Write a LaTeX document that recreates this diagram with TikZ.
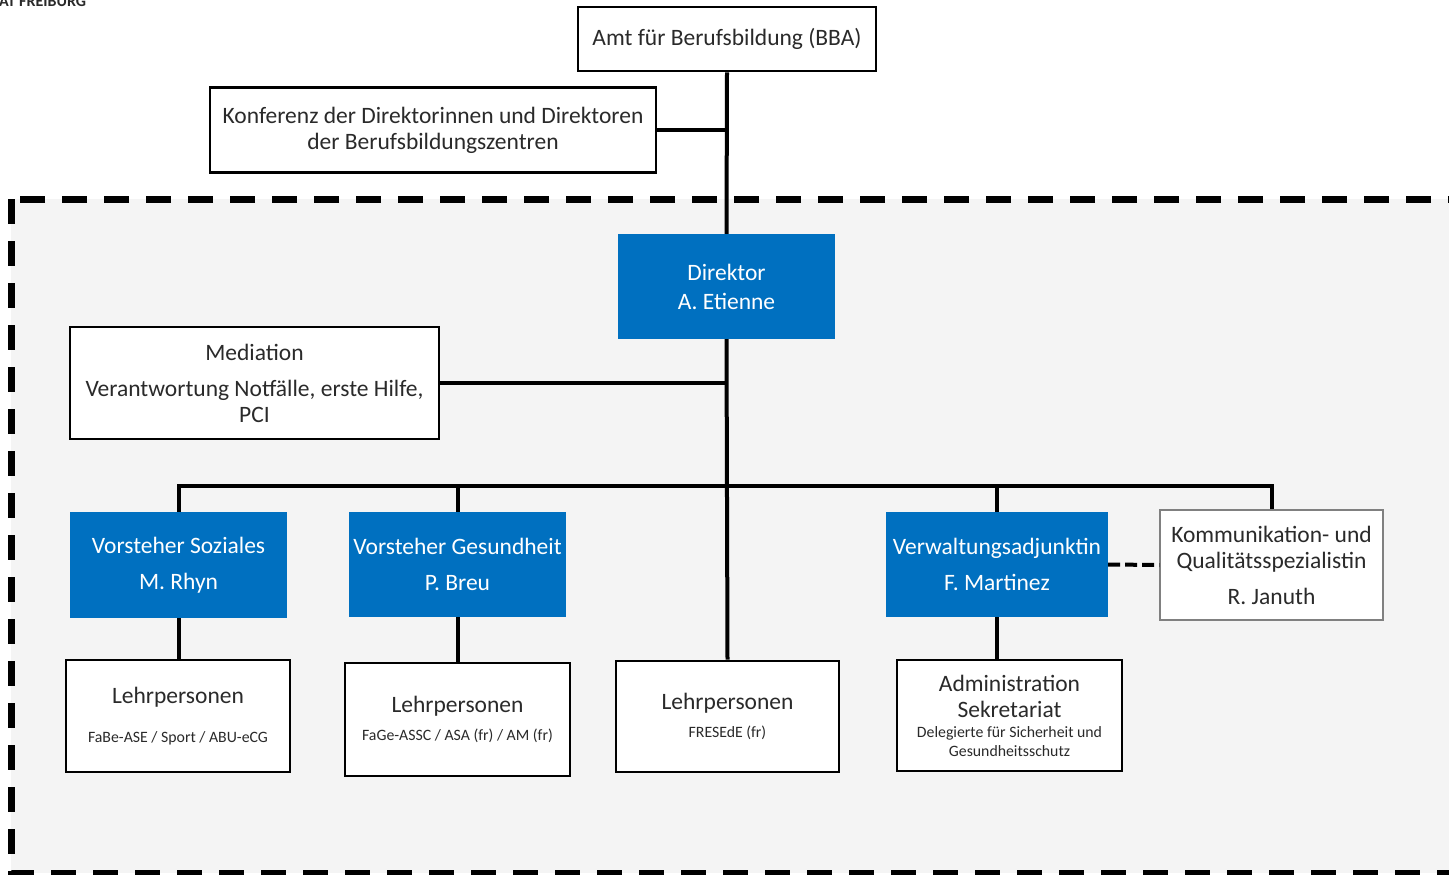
\documentclass[tikz,border=0pt]{standalone}
\usepackage{fontspec}
\setmainfont{Carlito}
\definecolor{bggray}{HTML}{F4F4F4}
\definecolor{boxblue}{HTML}{0070C0}
\definecolor{txtgray}{HTML}{2A2A2A}
\definecolor{komgray}{HTML}{808080}
\newcommand{\bigf}{\fontsize{23.5}{26}\selectfont}
\newcommand{\smallf}{\fontsize{15.8}{19}\selectfont}
\begin{document}
\begin{tikzpicture}[x=1pt,y=-1pt,
  wbox/.style={draw=black, line width=2.6pt, fill=white, text=txtgray, align=center, inner sep=0pt, font=\bigf},
  bbox/.style={fill=boxblue, text=white, align=center, inner sep=0pt, font=\bigf},
  kbox/.style={draw=komgray, line width=1.2pt, fill=white, text=txtgray, align=center, inner sep=0pt, font=\bigf},
  conn/.style={draw=black, line width=4pt},
  dconn/.style={draw=black, line width=4pt, dash pattern=on 12pt off 5pt}]
\useasboundingbox (0,0) rectangle (1449,875);
\fill[white] (0,0) rectangle (1449,875);
\node[anchor=north west, inner sep=0pt, text=txtgray, font=\fontsize{16}{18}\selectfont\bfseries] (hdr) at (-1,-4) {AT FREIBURG};
\draw[fill=bggray, line width=7pt, dash pattern=on 25pt off 17pt] (11,199) rectangle (1475,873);

\node[wbox, minimum width=298pt, minimum height=64pt] (bba) at (727,39) {Amt für Berufsbildung (BBA)};
\node[wbox, minimum width=446pt, minimum height=85pt] (konf) at (433,130) {Konferenz der Direktorinnen und Direktoren\\der Berufsbildungszentren};
\node[bbox, minimum width=217pt, minimum height=105pt] (dir) at (726.5,286.5) {Direktor\\[3pt]A. Etienne};
\node[wbox, minimum width=369pt, minimum height=112pt] (med) at (254.5,383) {Mediation\\[10pt]Verantwortung Notfälle, erste Hilfe,\\PCI};
\node[bbox, minimum width=217pt, minimum height=106pt] (soz) at (178.5,565) {Vorsteher Soziales\\[10pt]M. Rhyn};
\node[bbox, minimum width=217pt, minimum height=105pt] (ges) at (457.5,564.5) {Vorsteher Gesundheit\\[10pt]P. Breu};
\node[bbox, minimum width=222pt, minimum height=105pt] (verw) at (997,564.5) {Verwaltungsadjunktin\\[10pt]F. Martinez};
\node[kbox, minimum width=223pt, minimum height=110pt] (kom) at (1271.5,565) {Kommunikation- und\\Qualitätsspezialistin\\[10pt]R. Januth};

\node[wbox, minimum width=224pt, minimum height=112pt] (l1) at (178,716) {Lehrpersonen\\[13pt]\smallf FaBe-ASE / Sport / ABU-eCG};
\node[wbox, minimum width=225pt, minimum height=113pt] (l2) at (457.5,719.5) {Lehrpersonen\\[2pt]\smallf FaGe-ASSC / ASA (fr) / AM (fr)};
\node[wbox, minimum width=223pt, minimum height=111pt] (l3) at (727.5,716.5) {Lehrpersonen\\[2pt]\smallf FRESEdE (fr)};
\node[wbox, minimum width=225pt, minimum height=111pt] (adm) at (1009.5,715.5) {Administration\\Sekretariat\\[-6pt]\smallf Delegierte für Sicherheit und\\[-7pt]\smallf Gesundheitsschutz};

\coordinate (bar) at (727,486);
\draw[conn] (bba.south) -- (dir.north);
\draw[conn] (konf.east) -- (konf.east -| bba.south);
\draw[conn] (dir.south) -- (l3.north);
\draw[conn] (med.east) -- (med.east -| dir.south);
\draw[conn] (soz.north) |- (bar) -| (kom.north);
\draw[conn] (ges.north) -- (ges.north |- bar);
\draw[conn] (verw.north) -- (verw.north |- bar);
\draw[conn] (soz.south) -- (soz.south |- l1.north);
\draw[conn] (ges.south) -- (ges.south |- l2.north);
\draw[conn] (verw.south) -- (verw.south |- adm.north);
\draw[dconn] (verw.east) -- (kom.west);
\end{tikzpicture}
\end{document}
